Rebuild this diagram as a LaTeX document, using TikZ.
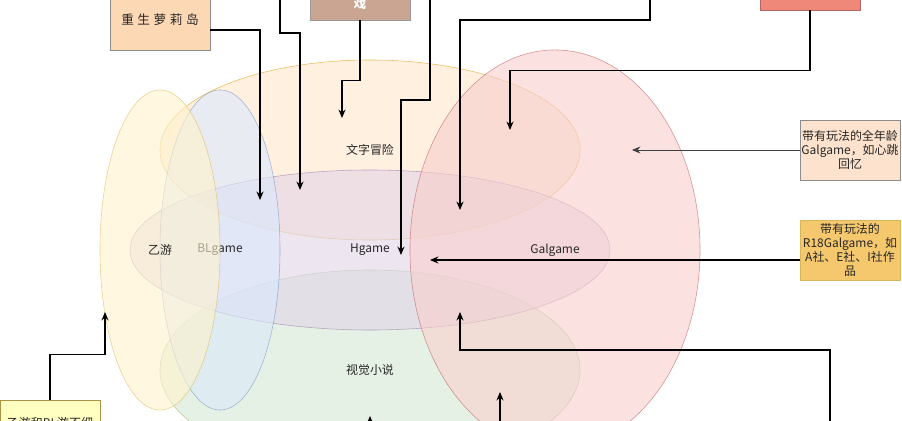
\documentclass[tikz,border=0pt]{standalone}
\usepackage{fontspec}
\setmainfont{Noto Sans CJK SC}
\usetikzlibrary{shapes.geometric,arrows.meta}
\definecolor{otomeFill}{HTML}{FFF2CC}
\definecolor{otomeLine}{HTML}{D6B656}
\definecolor{blFill}{HTML}{DAE8FC}
\definecolor{blLine}{HTML}{6C8EBF}
\definecolor{advFill}{HTML}{FFE6CC}
\definecolor{advLine}{HTML}{D79B00}
\definecolor{hFill}{HTML}{E1D5E7}
\definecolor{hLine}{HTML}{9673A6}
\definecolor{novelFill}{HTML}{D5E8D4}
\definecolor{novelLine}{HTML}{82B366}
\definecolor{galFill}{HTML}{F8CECC}
\definecolor{galLine}{HTML}{B85450}
\definecolor{islandFill}{HTML}{FDD8B5}
\definecolor{gameFill}{HTML}{C9A592}
\definecolor{redFill}{HTML}{F0887A}
\definecolor{ageFill}{HTML}{FDE2CD}
\definecolor{r18Fill}{HTML}{F6C86E}
\definecolor{noteFill}{HTML}{FFFFC2}

\begin{document}
\begin{tikzpicture}[x=0.025cm,y=-0.025cm,>={Stealth[length=6pt,width=5pt]},
	font=\fontsize{8.5}{10}\selectfont,text=black!85]
		\tikzstyle{SetStyle}=[ellipse,draw,fill opacity=0.6,draw opacity=0.6,text opacity=1,inner sep=0pt]
		\tikzstyle{BoxStyle}=[rectangle,draw=black!45,minimum width=2.5cm,minimum height=1.5cm,inner sep=1pt,align=center]
		\tikzstyle{EdgeStyle}=[->,line width=0.8pt,black]
		\useasboundingbox (0,0) rectangle (902,421);
		\clip (0,0) rectangle (902,421);
		% sets
		\node[SetStyle,fill=novelFill,draw=novelLine,minimum width=10.5cm,minimum height=5cm] (novel) at (370,370) {视觉小说};
		\node[SetStyle,fill=advFill,draw=advLine,minimum width=10.5cm,minimum height=4.5cm] (adv) at (370,150) {文字冒险};
		\node[SetStyle,fill=hFill,draw=hLine,minimum width=12cm,minimum height=4cm] (hgame) at (370,250) {Hgame};
		\node[SetStyle,fill=galFill,draw=galLine,minimum width=7.25cm,minimum height=10cm] (gal) at (555,250) {Galgame};
		\node[SetStyle,fill=blFill,draw=blLine,minimum width=3cm,minimum height=8cm] (bl) at (220,250) {BLgame};
		\node[SetStyle,fill=otomeFill,draw=otomeLine,minimum width=3cm,minimum height=8cm] (otome) at (160,250) {乙游};
		% boxes
		\node[BoxStyle,fill=islandFill,font=\fontsize{9}{10}\selectfont] (island) at (160,20) {重\hspace{2.5pt}生\hspace{2.5pt}萝\hspace{2.5pt}莉\hspace{2.5pt}岛};
		\node[BoxStyle,fill=gameFill,draw=black!40] (game) at (360,-10) {};
		\node[text=white,font=\fontsize{9}{10}\selectfont\bfseries] (gametext) at (360,4) {戏};
		\node[BoxStyle,fill=redFill,draw=red!50!black!60] (redbox) at (810,-20) {};
		\node[BoxStyle,fill=ageFill] (allage) at (850,150) {带有玩法的全年龄\\Galgame，如心跳\\回忆};
		\node[BoxStyle,fill=r18Fill,draw=otomeLine] (r18) at (850,250) {带有玩法的\\R18Galgame，如\\A社、E社、I社作\\品};
		\node[BoxStyle,fill=noteFill,draw=otomeLine!80!black,text depth=11pt] (note) at (50,430) {乙游和BL游不细};
		% ends of the connectors
		\coordinate (srcA) at (280,-30);
		\coordinate (srcB) at (430,-30);
		\coordinate (srcC) at (650,-30);
		\coordinate (srcD) at (830,470);
		\coordinate (srcE) at (500,470);
		\coordinate (srcF) at (370,470);
		\coordinate (islandIn) at (260,200);
		\coordinate (tipA) at (300,190);
		\coordinate (advIn) at (342,118);
		\coordinate (hIn) at (401,255);
		\coordinate (galIn) at (460,210);
		\coordinate (galAdvIn) at (510,130);
		\coordinate (galOnlyIn) at (632,150);
		\coordinate (hgIn) at (430,260);
		\coordinate (hgNovIn) at (460,312);
		\coordinate (galNovIn) at (500,392);
		\coordinate (novIn) at (370,416);
		\coordinate (otomeIn) at (105,312);
		% connectors
		\draw[EdgeStyle] (island.east) ++(0,10) -| (islandIn);
		\draw[EdgeStyle] (srcA) -- ++(0,63) -| (tipA);
		\draw[EdgeStyle] (game.south) -- ++(0,60) -| (advIn);
		\draw[EdgeStyle] (srcB) -- ++(0,130) -| (hIn);
		\draw[EdgeStyle] (srcC) -- ++(0,50) -| (galIn);
		\draw[EdgeStyle] (redbox.south) -- ++(0,60) -| (galAdvIn);
		\draw[EdgeStyle,black!75,line width=0.6pt] (allage.west) -- (galOnlyIn);
		\draw[EdgeStyle] (r18.west) ++(0,10) -- (hgIn);
		\draw[EdgeStyle] (srcD) -- ++(0,-120) -| (hgNovIn);
		\draw[EdgeStyle] (srcE) -- (galNovIn);
		\draw[EdgeStyle] (srcF) -- (novIn);
		\draw[EdgeStyle] (note.north) -- ++(0,-45) -| (otomeIn);
	\end{tikzpicture}
\end{document}
